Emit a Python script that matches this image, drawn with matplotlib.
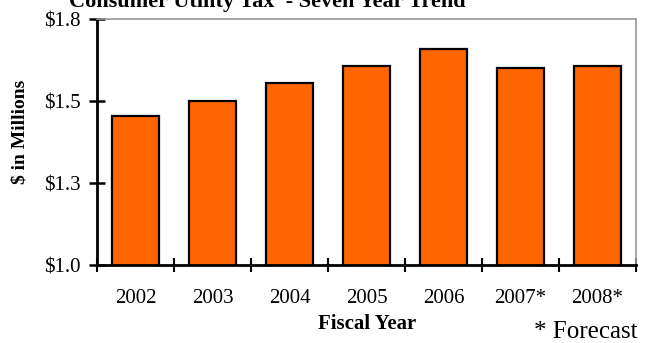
import matplotlib.pyplot as plt
import numpy as np

years = ["2002", "2003", "2004", "2005", "2006", "2007*", "2008*"]
revenue = [1.454, 1.500, 1.555, 1.607, 1.659, 1.600, 1.607]
y_ticks = [1.0, 1.25, 1.5, 1.75]
y_labels = ["$1.0", "$1.3", "$1.5", "$1.8"]

plt.rcParams["font.family"] = ["Liberation Serif", "DejaVu Serif"]

fig = plt.figure(figsize=(6.45, 3.43), dpi=100)
ax = fig.add_axes([97 / 645, 1 - 265 / 343, (636 - 97) / 645, (265 - 19) / 343])

x = np.arange(len(years))
ax.bar(x, revenue, width=0.62, bottom=0, color="#FF6600", edgecolor="black", linewidth=1.6, zorder=2)

ax.set_xlim(-0.5, len(years) - 0.5)
ax.set_ylim(1.0, 1.75)
ax.set_yticks(y_ticks)
ax.set_yticklabels(y_labels, fontsize=15)
ax.set_xticks(x)
ax.set_xticklabels(years, fontsize=15)
ax.set_xticks(np.arange(len(years) + 1) - 0.5, minor=True)
ax.tick_params(axis="x", which="major", length=0, pad=17)
ax.tick_params(axis="x", which="minor", direction="inout", length=10, width=1.5)
ax.tick_params(axis="y", direction="inout", length=11, width=1.8, pad=6)

for side in ["left", "bottom"]:
    ax.spines[side].set_linewidth(2)
    ax.spines[side].set_color("black")
for side in ["top", "right"]:
    ax.spines[side].set_linewidth(1.2)
    ax.spines[side].set_color("#999999")

# the title sits partly above the top edge, as in the source
fig.text(267 / 645, 1 - 7 / 343, "Consumer Utility Tax  - Seven Year Trend",
         ha="center", va="baseline", fontsize=16, fontweight="bold")
fig.text(20 / 645, 1 - 132 / 343, "$ in Millions", rotation=90,
         ha="center", va="center", fontsize=14, fontweight="bold")
fig.text(367 / 645, 1 - 324 / 343, "Fiscal Year", ha="center", va="center",
         fontsize=15, fontweight="bold")
fig.text(637 / 645, 1 - 332 / 343, "* Forecast", ha="right", va="center", fontsize=18)

fig.savefig("out.png", dpi=100)
